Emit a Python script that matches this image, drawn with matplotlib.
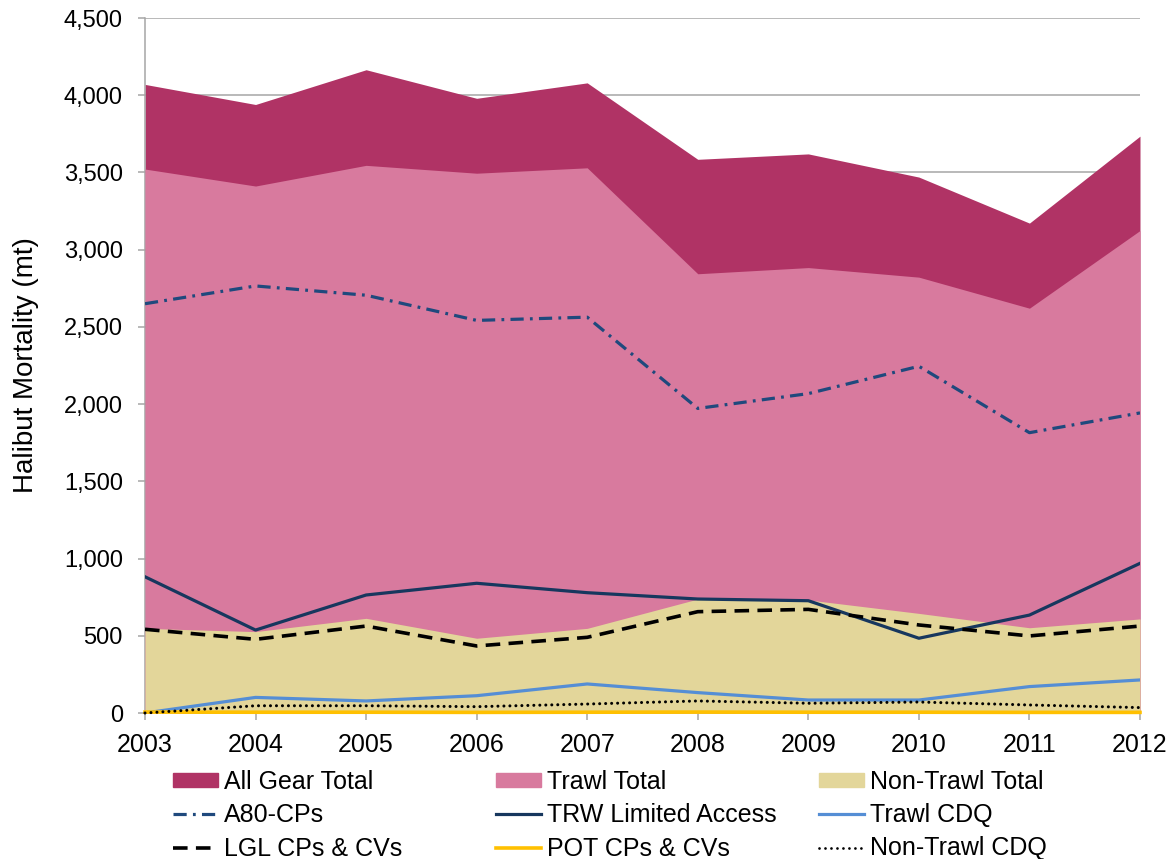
import matplotlib
matplotlib.use('Agg')
import matplotlib.pyplot as plt
from matplotlib.ticker import FuncFormatter, MultipleLocator
from matplotlib.patches import Patch
from matplotlib.lines import Line2D

plt.rcParams['font.family'] = ['Liberation Sans', 'DejaVu Sans']
plt.rcParams['lines.scale_dashes'] = False

# Halibut mortality (mt) by year
years = [2003, 2004, 2005, 2006, 2007, 2008, 2009, 2010, 2011, 2012]
all_gear_total = [4070, 3940, 4165, 3980, 4080, 3585, 3620, 3470, 3172, 3735]
trawl_total = [3522, 3412, 3546, 3495, 3530, 2844, 2884, 2822, 2621, 3124]
non_trawl_total = [548, 527, 613, 484, 548, 738, 732, 645, 552, 609]
a80_cps = [2650, 2765, 2705, 2542, 2563, 1972, 2068, 2245, 1815, 1943]
trw_limited_access = [882, 537, 764, 840, 779, 738, 727, 484, 634, 969]
trawl_cdq = [0, 101, 78, 112, 188, 132, 84, 84, 171, 214]
lgl_cps_cvs = [542, 477, 563, 434, 490, 656, 671, 570, 499, 563]
pot_cps_cvs = [6, 5, 5, 4, 5, 6, 5, 5, 4, 4]
non_trawl_cdq = [0, 47, 47, 41, 58, 78, 63, 71, 52, 35]

c_all = '#B03365'
c_trawl = '#D87A9E'
c_nontrawl = '#E3D69A'
c_a80 = '#1F497D'
c_trw = '#17375E'
c_tcdq = '#558ED5'
c_pot = '#FFC000'

fig = plt.figure(figsize=(11.72, 8.59), dpi=100)
ax = fig.add_axes([145 / 1172, 146 / 859, 995 / 1172, 695 / 859])

# Filled areas (overlapping, not stacked)
ax.fill_between(years, 0, all_gear_total, color=c_all, lw=0, zorder=2)
ax.fill_between(years, 0, trawl_total, color=c_trawl, lw=0, zorder=3)
ax.fill_between(years, 0, non_trawl_total, color=c_nontrawl, lw=0, zorder=4)

# Lines
ax.plot(years, a80_cps, color=c_a80, lw=2.3, dashes=(9.5, 4.5, 2, 4.5), zorder=5)
ax.plot(years, trw_limited_access, color=c_trw, lw=2.3, zorder=5)
ax.plot(years, trawl_cdq, color=c_tcdq, lw=2.3, zorder=5)
ax.plot(years, lgl_cps_cvs, color='black', lw=2.6, dashes=(10.5, 6), zorder=5)
ax.plot(years, pot_cps_cvs, color=c_pot, lw=2.6, zorder=5, clip_on=False)
ax.plot(years, non_trawl_cdq, color='black', lw=2.2, dashes=(0.01, 4.3),
        dash_capstyle='round', zorder=6, clip_on=False)

ax.set_xlim(2003, 2012)
ax.set_ylim(0, 4500)
ax.set_xticks(years)
ax.yaxis.set_major_locator(MultipleLocator(500))
ax.yaxis.set_major_formatter(FuncFormatter(lambda v, p: '{:,.0f}'.format(v)))
ax.grid(axis='y', color='#A6A6A6', lw=1.1, zorder=1)
ax.set_axisbelow(True)

for s in ['top', 'right']:
    ax.spines[s].set_visible(False)
for s in ['left', 'bottom']:
    ax.spines[s].set_color('#A6A6A6')
    ax.spines[s].set_linewidth(1.1)
ax.tick_params(axis='both', colors='#A6A6A6', length=5, width=1.1, labelcolor='black')
ax.tick_params(axis='x', pad=9.5, labelsize=18)
ax.tick_params(axis='y', pad=11, labelsize=17)
ax.set_ylabel('Halibut Mortality (mt)', fontsize=20, labelpad=18)

# Legend: three equal-width columns
col1 = [Patch(color=c_all), Line2D([], [], color=c_a80, lw=2.3, dashes=(9.5, 4.5, 2, 4.5)),
        Line2D([], [], color='black', lw=2.6, dashes=(10.5, 6))]
col2 = [Patch(color=c_trawl), Line2D([], [], color=c_trw, lw=2.3),
        Line2D([], [], color=c_pot, lw=2.6)]
col3 = [Patch(color=c_nontrawl), Line2D([], [], color=c_tcdq, lw=2.3),
        Line2D([], [], color='black', lw=2.0, dashes=(0.01, 4.3), dash_capstyle='round')]
labels1 = ['All Gear Total', 'A80-CPs', 'LGL CPs & CVs']
labels2 = ['Trawl Total', 'TRW Limited Access', 'POT CPs & CVs']
labels3 = ['Non-Trawl Total', 'Trawl CDQ', 'Non-Trawl CDQ']

for hs, ls, x in [(col1, labels1, 173), (col2, labels2, 496), (col3, labels3, 819)]:
    fig.legend(hs, ls, loc='upper left', bbox_to_anchor=(x / 1172, 1 - 770 / 859),
               frameon=False, fontsize=18, handlelength=1.8, handleheight=0.5,
               handletextpad=0.24, labelspacing=0.37, borderpad=0, borderaxespad=0)

fig.savefig('out.png', dpi=100)
